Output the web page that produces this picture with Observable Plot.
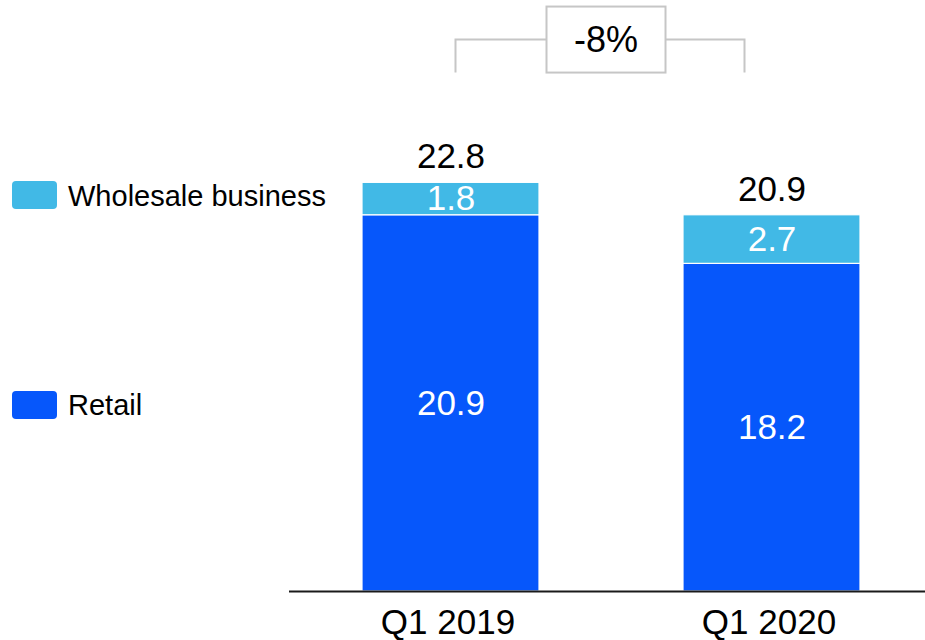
<!DOCTYPE html>
<html><head><meta charset="utf-8">
<script src="https://cdn.jsdelivr.net/npm/d3@7"></script>
<script src="https://cdn.jsdelivr.net/npm/@observablehq/plot@0.6"></script>
<style>
body{margin:0;background:#fff;}
#chart{position:relative;width:925px;height:640px;}
</style>
</head><body><div id="chart"></div>
<script>
const quarters = ["Q1 2019", "Q1 2020"];
const segments = ["Retail", "Wholesale business"];
const retail = [20.9, 18.2];
const wholesale = [1.8, 2.7];
const totals = [22.8, 20.9];
const changeLabel = "-8%";
const colors = ["#0657fb", "#41b9e6"];

const rows = [];
quarters.forEach((q, i) => {
  rows.push({quarter: q, segment: "Retail", value: retail[i]});
  rows.push({quarter: q, segment: "Wholesale business", value: wholesale[i]});
});
const totalRows = quarters.map((q, i) => ({quarter: q, total: totals[i], top: retail[i] + wholesale[i]}));

const font = "'Liberation Sans', Arial, Helvetica, sans-serif";
const plot = Plot.plot({
  width: 925, height: 640,
  marginLeft: 289, marginRight: 0, marginTop: 0, marginBottom: 49,
  style: {fontFamily: font, fontSize: "35px", color: "#000", background: "#fff", overflow: "visible"},
  x: {domain: quarters, paddingInner: 0.45, paddingOuter: 0.2127, align: 0.53},
  y: {domain: [0, 32.83], axis: null},
  color: {domain: segments, range: colors},
  marks: [
    Plot.barY(rows, {x: "quarter", y: "value", fill: "segment", stroke: "white", strokeWidth: 1.2, order: segments}),
    Plot.text(rows, Plot.stackY({x: "quarter", y: "value", z: "segment", order: segments,
      text: d => d.value.toFixed(1), fill: "white", fontSize: 35})),
    Plot.text(totalRows, {x: "quarter", y: "top", text: d => d.total.toFixed(1),
      lineAnchor: "bottom", dy: -14.5, fontSize: 35, fill: "#000"}),
    Plot.ruleY([0], {stroke: "#1a1a1a", strokeWidth: 2}),
    Plot.axisX({tickSize: 0, tickPadding: 18, fontSize: 35, label: null, fill: "#000", dx: -3})
  ]
});
document.getElementById("chart").appendChild(plot);

// annotations via the plot's own scales
const xs = plot.scale("x"), ys = plot.scale("y");
const bw = xs.bandwidth;
const svg = d3.select(plot);
const c0 = xs.apply(quarters[0]) + bw / 2, c1 = xs.apply(quarters[1]) + bw / 2;
const topY = ys.apply(d3.max(totals)) - 141;
const xl = c0 + 5, xr = c1 - 27;
const g = svg.append("g").attr("text-anchor", "start");
g.append("path")
  .attr("d", `M${xl},${topY + 33}V${topY}H${xr}V${topY + 33}`)
  .attr("fill", "none").attr("stroke", "#c6c6c6").attr("stroke-width", 2);
const bx = (xl + xr) / 2 + 6;
g.append("rect").attr("x", bx - 59.5).attr("y", topY - 33).attr("width", 119).attr("height", 66)
  .attr("fill", "#fff").attr("stroke", "#c6c6c6").attr("stroke-width", 2);
g.append("text").attr("x", bx).attr("y", topY).attr("dy", "0.35em")
  .attr("text-anchor", "middle").attr("font-size", 36).attr("fill", "#000")
  .text(changeLabel);

// legend aligned with first bar's segments
const legendY = {
  "Wholesale business": (ys.apply(retail[0]) + ys.apply(retail[0] + wholesale[0])) / 2 - 3.5,
  "Retail": (ys.apply(0) + ys.apply(retail[0])) / 2 + 2
};
segments.forEach((s, i) => {
  const cy = legendY[s];
  g.append("rect").attr("x", 12).attr("y", cy - 14).attr("width", 45).attr("height", 28)
    .attr("rx", 4).attr("fill", colors[i]);
  g.append("text").attr("x", 68).attr("y", cy).attr("dy", "0.36em")
    .attr("text-anchor", "start").attr("font-size", 29).attr("fill", "#000").text(s);
});
</script>
</body></html>
